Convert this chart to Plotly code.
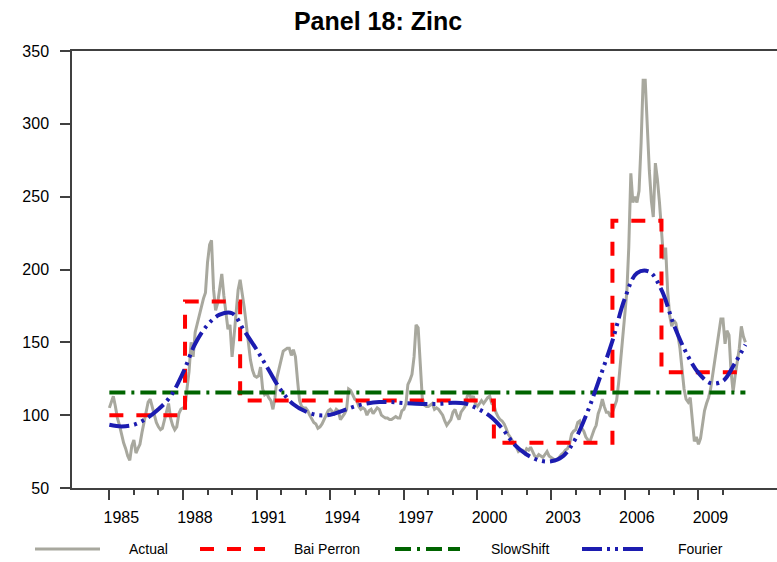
import plotly.graph_objects as go
import pandas as pd

# ---------------- data ----------------
title_text = "Panel 18: Zinc"
series_start = "1985-01-01"

# Monthly Actual index, Jan 1985 .. Dec 2010 (12 values per row = one year)
actual = [
    105, 110, 113, 106, 98, 93, 87, 81, 77, 72, 69, 79,          # 1985
    83, 74, 77, 80, 88, 95, 103, 109, 111, 106, 100, 95,         # 1986
    92, 90, 91, 97, 103, 108, 98, 93, 90, 92, 101, 104,          # 1987
    105, 105, 118, 130, 150, 140, 157, 163, 170, 174, 180, 184,  # 1988
    205, 217, 220, 186, 172, 177, 188, 197, 182, 170, 159, 162,  # 1989
    140, 155, 172, 186, 193, 184, 174, 162, 150, 138, 131, 127,  # 1990
    126, 127, 133, 118, 114, 115, 112, 110, 104, 112, 126, 133,  # 1991
    138, 144, 145, 146, 146, 141, 145, 140, 124, 110, 106, 105,  # 1992
    105, 103, 100, 97, 95, 94, 91, 92, 94, 97, 100, 103,         # 1993
    104, 102, 101, 104, 103, 97, 99, 101, 104, 118, 117, 114,    # 1994
    111, 110, 106, 104, 105, 104, 100, 103, 104, 101, 103, 105,  # 1995
    104, 100, 99, 98, 98, 97, 97, 98, 99, 98, 98, 103,           # 1996
    104, 108, 121, 124, 128, 140, 162, 160, 135, 112, 107, 106,  # 1997
    106, 107, 108, 104, 105, 104, 102, 100, 96, 93, 95, 97,      # 1998
    102, 104, 100, 97, 102, 104, 106, 113, 115, 111, 113, 108,   # 1999
    106, 108, 110, 108, 110, 112, 113, 108, 107, 102, 99, 97,    # 2000
    96, 94, 91, 87, 85, 82, 80, 78, 75, 76, 76, 74,              # 2001
    77, 76, 78, 75, 72, 71, 73, 72, 71, 73, 75, 72,              # 2002
    71, 70, 69, 70, 71, 73, 74, 76, 77, 80, 87, 89,              # 2003
    90, 95, 96, 91, 89, 85, 83, 82, 87, 90, 93, 101,             # 2004
    105, 111, 106, 102, 102, 99, 102, 106, 110, 122, 138, 155,   # 2005
    168, 185, 215, 266, 246, 250, 246, 254, 287, 330, 330, 298,  # 2006
    268, 247, 236, 273, 262, 246, 225, 207, 215, 185, 168, 161,  # 2007
    165, 163, 155, 146, 132, 118, 111, 109, 112, 95, 82, 85,     # 2008
    80, 84, 92, 103, 108, 112, 118, 128, 138, 148, 158, 166,     # 2009
    166, 149, 158, 155, 130, 116, 127, 138, 146, 161, 154, 150,  # 2010
]

# Bai-Perron regimes: first month of each regime and its level
bp_starts = ["1985-01-01", "1988-02-01", "1990-05-01", "2000-09-01", "2005-07-01", "2007-07-01"]
bp_levels = [100, 178, 110, 81, 233.5, 129.5]

# SlowShift level (flat over the sample)
slowshift_level = 115.5

# Fourier fit, read every half year (last point Dec 2010)
fourier_dates = list(pd.date_range("1985-01-01", "2010-07-01", freq="6MS").strftime("%Y-%m-%d")) + ["2010-12-01"]
fourier_vals = [
    93.4, 92.3, 93.4, 97.5, 104, 113, 129, 149, 162, 169,          # 1985.0 - 1989.5
    170, 158, 145, 131, 117, 107.5, 102.5, 100, 100.3, 103,        # 1990.0 - 1994.5
    106, 108, 109, 109, 108.3, 107.8, 107.6, 107.8, 108.5, 108,    # 1995.0 - 1999.5
    104.5, 99.5, 91, 80, 73, 69, 68.3, 72, 84, 103,                # 2000.0 - 2004.5
    126.5, 151, 180, 197.5, 198.5, 186, 162, 143, 129, 122,        # 2005.0 - 2009.5
    123.5, 136, 148.3,                                             # 2010.0, 2010.5, 2010.917
]

year_tick_labels = [str(y) for y in range(1985, 2010, 3)]
minor_tick_years = list(range(1985, 2011))
y_ticks = [50, 100, 150, 200, 250, 300, 350]

# ---------------- derived series ----------------
months = pd.date_range(series_start, periods=len(actual), freq="MS")
bp_start_ts = pd.to_datetime(bp_starts)
bai_perron = []
for m in months:
    lvl = bp_levels[0]
    for s, v in zip(bp_start_ts, bp_levels):
        if m >= s:
            lvl = v
    bai_perron.append(lvl)
slowshift = [slowshift_level] * len(months)

# ---------------- styles ----------------
FONT = "Liberation Sans, Arial, sans-serif"
C_ACT = "rgb(168,168,158)"
C_BP = "#ff0000"
C_SS = "#006400"
C_FO = "#1c1cb0"
C_AX = "#404040"
D_BP = "14px,13px"
D_SS = "16px,6px,3px,6px,16px,6px,16px,6px"
D_FO = "20px,5px,3px,5px,3px,5px"

fig = go.Figure()
fig.add_trace(go.Scatter(x=months, y=actual, name="Actual", mode="lines",
                         line=dict(color=C_ACT, width=3), showlegend=False))
fig.add_trace(go.Scatter(x=months, y=bai_perron, name="Bai Perron", mode="lines",
                         line=dict(color=C_BP, width=4, dash=D_BP, shape="hv"), showlegend=False))
fig.add_trace(go.Scatter(x=months, y=slowshift, name="SlowShift", mode="lines",
                         line=dict(color=C_SS, width=4, dash=D_SS), showlegend=False))
fig.add_trace(go.Scatter(x=pd.to_datetime(fourier_dates), y=fourier_vals, name="Fourier", mode="lines",
                         line=dict(color=C_FO, width=4, dash=D_FO, shape="spline", smoothing=1.0),
                         showlegend=False))

# plot area geometry (pixels)
W, H = 777, 562
L, R, T, B = 72, 777, 51, 488

def px_x(px):
    return (px - L) / (R - L)

def px_y(py):
    return (B - py) / (B - T)

# manual legend (long line samples as in the original)
legend_items = [
    ("Actual", C_ACT, "solid", 3, 35, 127),
    ("Bai Perron", C_BP, D_BP, 4, 200, 292),
    ("SlowShift", C_SS, D_SS, 4, 395, 489),
    ("Fourier", C_FO, D_FO, 4, 582, 676),
]
leg_y = 549
shapes = []
annotations = []
for name, col, dash, w, sx, tx in legend_items:
    shapes.append(dict(type="line", xref="paper", yref="paper",
                       x0=px_x(sx), x1=px_x(sx + 65), y0=px_y(leg_y), y1=px_y(leg_y),
                       line=dict(color=col, width=w, dash=dash)))
    annotations.append(dict(text=name, xref="paper", yref="paper", x=px_x(tx), y=px_y(leg_y),
                            xanchor="left", yanchor="middle", showarrow=False,
                            font=dict(family=FONT, size=14, color="black")))

# short extensions of the top and bottom frame lines to the left of the y axis
for yy in (0, 1):
    shapes.append(dict(type="line", xref="paper", yref="paper",
                       x0=px_x(60), x1=0, y0=yy, y1=yy,
                       line=dict(color=C_AX, width=1.5)))

x_range = ["1983-06-25", "2012-03-15"]

fig.update_layout(
    width=W, height=H,
    margin=dict(l=L, r=W - R, t=T, b=H - B, pad=0),
    paper_bgcolor="white", plot_bgcolor="white",
    font=dict(family=FONT, size=16, color="black"),
    title=dict(text=title_text, x=378 / W, xref="container", xanchor="center",
               y=1 - 21 / H, yref="container", yanchor="middle",
               font=dict(family=FONT, size=25, color="black", weight="bold")),
    shapes=shapes,
    annotations=annotations,
    xaxis=dict(
        type="date", range=x_range, showgrid=False, zeroline=False,
        showline=True, linecolor=C_AX, linewidth=1.5, mirror=True,
        tickmode="array", tickvals=[f"{y}-01-01" for y in year_tick_labels],
        ticktext=year_tick_labels,
        ticks="outside", ticklen=10, tickwidth=1.5, tickcolor=C_AX,
        ticklabelshift=12, ticklabelstandoff=4,
        minor=dict(tickmode="array", tickvals=[f"{y}-01-01" for y in minor_tick_years],
                   ticks="outside", ticklen=5, tickwidth=1.5, tickcolor=C_AX, showgrid=False),
        tickfont=dict(family=FONT, size=16, color="black"),
        automargin=False,
    ),
    yaxis=dict(
        range=[50, 350], tickvals=y_ticks, showgrid=False, zeroline=False,
        showline=True, linecolor=C_AX, linewidth=1.5,
        ticks="outside", ticklen=10, tickwidth=1.5, tickcolor=C_AX,
        ticklabelstandoff=8,
        tickfont=dict(family=FONT, size=16, color="black"),
        automargin=False,
    ),
)

fig.write_html("out.html", config={"displayModeBar": False},
               post_script="document.body.style.margin='0px';document.body.style.overflow='hidden';")
